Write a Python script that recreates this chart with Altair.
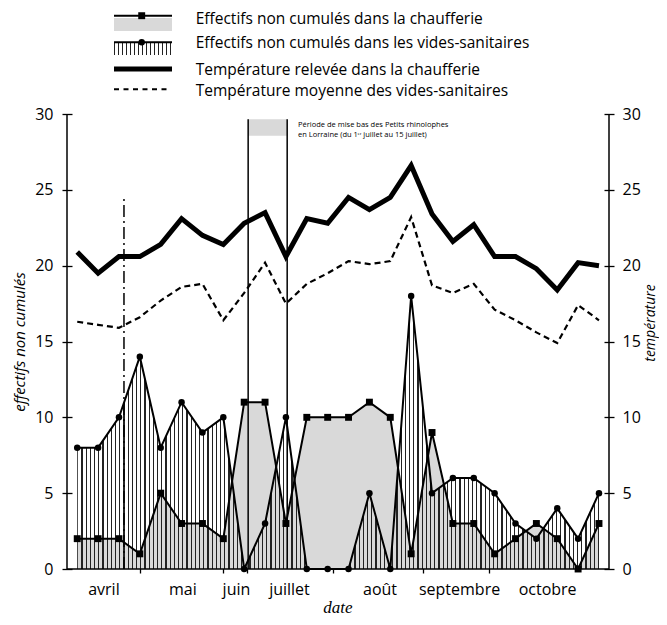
import altair as alt
import pandas as pd

# ---------------- data ----------------
sample_index = list(range(26))
eff_chaufferie = [2, 2, 2, 1, 5, 3, 3, 2, 11, 11, 3, 10, 10, 10, 11, 10, 1, 9, 3, 3, 1, 2, 3, 2, 0, 3]
eff_vides = [8, 8, 10, 14, 8, 11, 9, 10, 0, 3, 10, 0, 0, 0, 5, 0, 18, 5, 6, 6, 5, 3, 2, 4, 2, 5]
temp_chaufferie = [20.9, 19.5, 20.6, 20.6, 21.4, 23.1, 22.0, 21.4, 22.8, 23.5, 20.6, 23.1, 22.8,
                   24.5, 23.7, 24.5, 26.6, 23.4, 21.6, 22.7, 20.6, 20.6, 19.8, 18.4, 20.2, 20.0]
temp_vides = [16.3, 16.1, 15.9, 16.6, 17.7, 18.6, 18.8, 16.4, 18.2, 20.2, 17.5, 18.8, 19.5,
              20.3, 20.1, 20.3, 23.2, 18.7, 18.2, 18.8, 17.1, 16.4, 15.6, 14.9, 17.4, 16.4]

month_labels = ["avril", "mai", "juin", "juillet", "août", "septembre", "octobre"]
month_label_pos = [1.28, 5.06, 7.63, 10.17, 14.51, 18.32, 22.54]
month_ticks = [3.0, 7.0, 8.15, 12.27, 16.55, 19.74]
y_ticks = [0, 5, 10, 15, 20, 25, 30]

event_solid_x = [8.19, 10.06]
event_solid_top = 29.65
event_box = [8.19, 10.06, 28.56, 29.65]
event_dashdot_x = [2.24]
event_dashdot_top = 24.5
annot_lines = ["Période de mise bas des Petits rhinolophes",
               "en Lorraine (du 1ᵉʳ juillet au 15 juillet)"]
annot_x = 10.58
annot_y = [29.27, 28.6]

legend_labels = ["Effectifs non cumulés dans la chaufferie",
                 "Effectifs non cumulés dans les vides-sanitaires",
                 "Température relevée dans la chaufferie",
                 "Température moyenne des vides-sanitaires"]

# ---------------- layout / style ----------------
W, H = 542, 455
XDOM = [-0.49, 25.48]
FONT = "Open Sans"
GRAY = "#d9d9d9"


def hatch(width_px, spacing=4.2, lw=1.1, color="#222"):
    stops = []
    k = 0
    while k * spacing < width_px:
        s = k * spacing / width_px
        e = min((k * spacing + lw) / width_px, 1.0)
        stops += [{"offset": s, "color": "rgba(255,255,255,0)"},
                  {"offset": s, "color": color},
                  {"offset": e, "color": color},
                  {"offset": e, "color": "rgba(255,255,255,0)"}]
        k += 1
    return {"gradient": "linear", "x1": 0, "x2": 1, "y1": 0, "y2": 0, "stops": stops}


df = pd.DataFrame({"i": sample_index, "ch": eff_chaufferie, "vs": eff_vides,
                   "tch": temp_chaufferie, "tvs": temp_vides})

x_axis = alt.Axis(values=month_ticks, labels=False, offset=-4, tickSize=8, domain=False,
                  grid=False, title=None, tickColor="black", tickWidth=1.3)
left_axis = alt.Axis(orient="left", values=y_ticks, offset=-5, tickSize=10, domain=False,
                     grid=False, labelPadding=9, labelFontSize=16, labelFont=FONT,
                     labelColor="black", tickColor="black", tickWidth=1.3, title=None)
right_axis = alt.Axis(orient="right", values=y_ticks, offset=-5, tickSize=10, domain=False,
                      grid=False, labelPadding=8, labelFontSize=16, labelFont=FONT,
                      labelColor="black", tickColor="black", tickWidth=1.3, title=None)
yscale = alt.Scale(domain=[0, 30], nice=False, zero=True)


def X(f):
    return alt.X(f, type="quantitative", scale=alt.Scale(domain=XDOM, nice=False, zero=False), axis=x_axis)


def YL(f):
    return alt.Y(f, type="quantitative", scale=yscale, axis=left_axis)


def YR(f):
    return alt.Y(f, type="quantitative", scale=yscale, axis=right_axis)


base = alt.Chart(df)
area_px = (len(sample_index) - 1) * W / (XDOM[1] - XDOM[0])

gray_area = base.mark_area(fill=GRAY, interpolate="linear").encode(x=X("i"), y=YL("ch"))
hatch_area = base.mark_area(fill=hatch(area_px), interpolate="linear").encode(x=X("i"), y=YL("vs"))
ch_line = base.mark_line(color="black", strokeWidth=2).encode(x=X("i"), y=YL("ch"))
vs_line = base.mark_line(color="black", strokeWidth=2).encode(x=X("i"), y=YL("vs"))
ch_pts = base.mark_point(shape="square", filled=True, size=48, color="black", opacity=1).encode(x=X("i"), y=YL("ch"))
vs_pts = base.mark_circle(size=42, color="black", opacity=1).encode(x=X("i"), y=YL("vs"))

box_df = pd.DataFrame({"x0": [event_box[0]], "x1": [event_box[1]], "y0": [event_box[2]], "y1": [event_box[3]]})
ev_box = alt.Chart(box_df).mark_rect(fill=GRAY).encode(x=X("x0"), x2="x1", y=YL("y0"), y2="y1")
ev_df = pd.DataFrame({"x": event_solid_x, "y0": [0] * len(event_solid_x), "y1": [event_solid_top] * len(event_solid_x)})
ev_rules = alt.Chart(ev_df).mark_rule(color="black", strokeWidth=1.5).encode(x=X("x"), y=YL("y0"), y2="y1")
dd_df = pd.DataFrame({"x": event_dashdot_x, "y0": [0], "y1": [event_dashdot_top]})
dd_rule = alt.Chart(dd_df).mark_rule(color="black", strokeWidth=1.5, strokeDash=[12, 4, 2, 4]).encode(
    x=X("x"), y=YL("y0"), y2="y1")
an_df = pd.DataFrame({"t": annot_lines, "x": [annot_x] * 2, "y": annot_y})
annot = alt.Chart(an_df).mark_text(align="left", baseline="middle", fontSize=7.5, font=FONT, color="black").encode(
    x=X("x"), y=YL("y"), text="t:N")

left_group = alt.layer(gray_area, hatch_area, ev_box, ev_rules, dd_rule, ch_line, vs_line, ch_pts, vs_pts, annot)

tch_line = base.mark_line(color="black", strokeWidth=5, strokeJoin="miter").encode(x=X("i"), y=YR("tch"))
tvs_line = base.mark_line(color="black", strokeWidth=2.2, strokeDash=[6, 4]).encode(x=X("i"), y=YR("tvs"))
right_group = alt.layer(tch_line, tvs_line)

one = pd.DataFrame({"a": [0]})
dom_left = alt.Chart(one).mark_rule(color="black", strokeWidth=1.5).encode(x=alt.value(0), y=alt.value(0), y2=alt.value(H))
dom_right = alt.Chart(one).mark_rule(color="black", strokeWidth=1.5).encode(x=alt.value(W), y=alt.value(0), y2=alt.value(H))
dom_bottom = alt.Chart(one).mark_rule(color="black", strokeWidth=1.5).encode(y=alt.value(H), x=alt.value(0), x2=alt.value(W))

m_df = pd.DataFrame({"m": month_labels, "p": month_label_pos})
months = alt.Chart(m_df).mark_text(baseline="alphabetic", fontSize=16, font=FONT, color="black").encode(
    x=X("p"), y=alt.value(481), text="m:N")

t_left = alt.Chart(one).mark_text(text="effectifs non cumulés", angle=270, baseline="middle", fontSize=15,
                                  font=FONT, fontStyle="italic", color="black").encode(
    x=alt.value(-47), y=alt.value(228))
t_right = alt.Chart(one).mark_text(text="température", angle=270, baseline="middle", fontSize=14,
                                   font=FONT, fontStyle="italic", color="black").encode(
    x=alt.value(584), y=alt.value(209))
t_date = alt.Chart(one).mark_text(text="date", baseline="alphabetic", fontSize=17,
                                  font="Liberation Serif", fontStyle="italic", color="black").encode(
    x=alt.value(271), y=alt.value(499))

# legend (drawn in pixels above the plot)
L0, L1, LM = 47, 105, 74.7
rows = [-98.3, -71.7, -45, -24.7]
lg = []
lg.append(alt.Chart(one).mark_rect(fill=GRAY).encode(x=alt.value(L0), x2=alt.value(L1), y=alt.value(-96), y2=alt.value(-83)))
lg.append(alt.Chart(one).mark_rule(color="black", strokeWidth=2).encode(x=alt.value(L0), x2=alt.value(L1), y=alt.value(rows[0])))
lg.append(alt.Chart(one).mark_point(shape="square", filled=True, size=48, color="black", opacity=1).encode(x=alt.value(LM), y=alt.value(rows[0])))
lg.append(alt.Chart(one).mark_rect(fill=hatch(L1 - L0, spacing=4.0, lw=1.1)).encode(x=alt.value(L0), x2=alt.value(L1), y=alt.value(-71), y2=alt.value(-59)))
lg.append(alt.Chart(one).mark_rule(color="black", strokeWidth=2).encode(x=alt.value(L0), x2=alt.value(L1), y=alt.value(rows[1])))
lg.append(alt.Chart(one).mark_circle(size=42, color="black", opacity=1).encode(x=alt.value(LM), y=alt.value(rows[1])))
lg.append(alt.Chart(one).mark_rule(color="black", strokeWidth=5).encode(x=alt.value(L0), x2=alt.value(L1), y=alt.value(rows[2])))
lg.append(alt.Chart(one).mark_rule(color="black", strokeWidth=2, strokeDash=[5, 4.5]).encode(x=alt.value(L0), x2=alt.value(L1 - 4), y=alt.value(rows[3])))
text_rows = [-95, -71, -44.5, -23.5]
for lab, ty in zip(legend_labels, text_rows):
    lg.append(alt.Chart(one).mark_text(text=lab, align="left", baseline="middle", fontSize=15.5, font=FONT,
                                       color="black").encode(x=alt.value(128.7), y=alt.value(ty)))

chart = alt.layer(left_group, right_group, dom_left, dom_right, dom_bottom, months,
                  t_left, t_right, t_date, *lg).resolve_scale(y="independent").properties(
    width=W, height=H,
    padding={"left": 59, "top": 106, "right": 50, "bottom": 48},
    autosize=alt.AutoSizeParams(type="none"),
).configure_view(stroke=None)

chart.save("out.html", embed_options={"renderer": "svg", "actions": False})
